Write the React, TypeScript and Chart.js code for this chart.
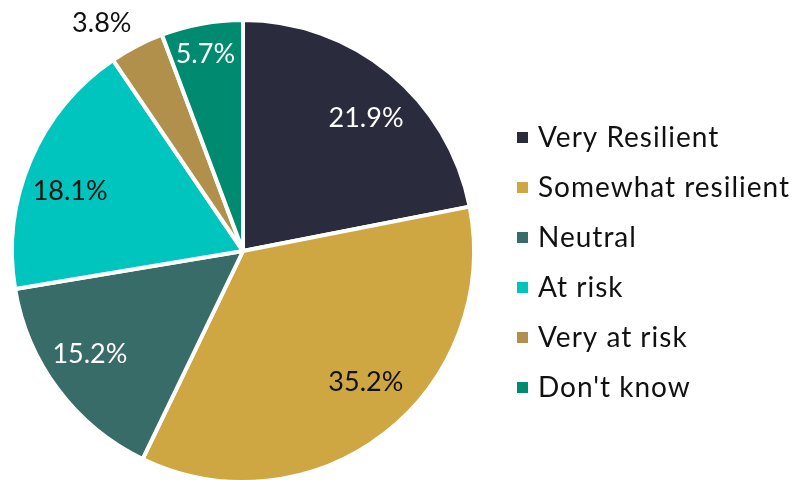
import React, { useEffect, useRef } from "react";
import { Chart, registerables } from "chart.js";

Chart.register(...registerables);

const categories = ["Very Resilient", "Somewhat resilient", "Neutral", "At risk", "Very at risk", "Don't know"];
const values = [21.9, 35.2, 15.2, 18.1, 3.8, 5.7];
const valueLabels = ["21.9%", "35.2%", "15.2%", "18.1%", "3.8%", "5.7%"];
const colors = ["#2a2c3e", "#cea743", "#386c69", "#00c5be", "#b0904a", "#008a70"];
const labelColors = ["#ffffff", "#111111", "#ffffff", "#111111", "#111111", "#ffffff"];
const labelRadiusFactor = [0.786, 0.776, 0.797, 0.793, 1.164, 0.872];
const labelAngleShift = [3.2, -5.6, 3.1, -3.8, -4.3, -0.5];

const FONT = "Lato, 'Open Sans', sans-serif";

const labelPlugin = {
  id: "sliceLabels",
  afterDatasetsDraw(chart: any) {
    const ctx = chart.ctx;
    const meta = chart.getDatasetMeta(0);
    ctx.save();
    ctx.font = `27px ${FONT}`;
    ctx.textAlign = "center";
    ctx.textBaseline = "middle";
    meta.data.forEach((arc: any, i: number) => {
      const { x, y, startAngle, endAngle, outerRadius } = arc.getProps(["x", "y", "startAngle", "endAngle", "outerRadius"], true);
      const mid = (startAngle + endAngle) / 2 + (labelAngleShift[i] * Math.PI) / 180;
      const r = outerRadius * labelRadiusFactor[i];
      ctx.fillStyle = labelColors[i];
      ctx.fillText(valueLabels[i], x + Math.cos(mid) * r, y + Math.sin(mid) * r + 1);
    });
    ctx.restore();
  },
};

const legendPlugin = {
  id: "customLegend",
  afterDraw(chart: any) {
    const ctx = chart.ctx;
    ctx.save();
    ctx.font = `28px ${FONT}`;
    (ctx as any).letterSpacing = "1px";
    ctx.textAlign = "left";
    ctx.textBaseline = "alphabetic";
    categories.forEach((c, i) => {
      const base = 147 + i * 50;
      ctx.fillStyle = colors[i];
      ctx.fillRect(517, base - 15, 11, 11);
      ctx.fillStyle = "#111111";
      ctx.fillText(c, 538, base);
    });
    ctx.restore();
  },
};

export default function App() {
  const ref = useRef<HTMLCanvasElement>(null);
  useEffect(() => {
    document.body.style.margin = "0";
    const chart = new Chart(ref.current!, {
      type: "pie",
      data: {
        labels: categories,
        datasets: [
          {
            data: values,
            backgroundColor: colors,
            borderColor: "#ffffff",
            borderWidth: 4,
          },
        ],
      },
      options: {
        animation: false,
        responsive: false,
        maintainAspectRatio: false,
        layout: { padding: { left: 10, top: 18, right: 322, bottom: 16 } },
        plugins: {
          legend: { display: false },
          tooltip: { enabled: false },
        },
      },
      plugins: [labelPlugin, legendPlugin],
    });
    return () => chart.destroy();
  }, []);
  return (
    <div style={{ width: 798, height: 480, overflow: "hidden", position: "relative", background: "#fff" }}>
      <canvas ref={ref} width={798} height={500} style={{ display: "block", width: 798, height: 500 }} />
    </div>
  );
}
